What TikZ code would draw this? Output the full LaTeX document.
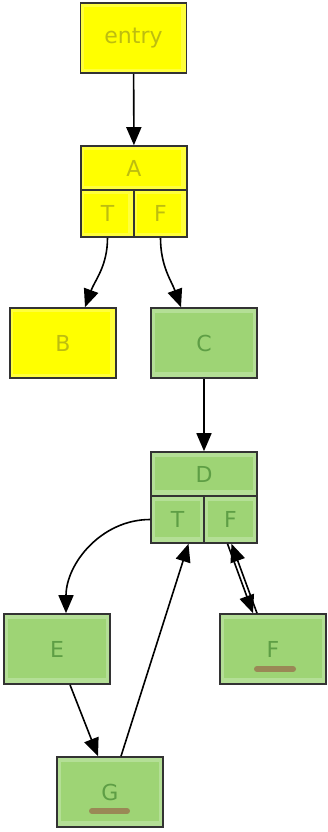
\documentclass[tikz,border=0pt]{standalone}
\usepackage{fontspec}
\setmainfont{DejaVu Sans}
\usetikzlibrary{arrows.meta,positioning}
\definecolor{hiyellow}{HTML}{FFFF3C}
\definecolor{hiyellowdeep}{HTML}{FFFF00}
\definecolor{leaflight}{HTML}{B4DF96}
\definecolor{leafdeep}{HTML}{96D068}
\definecolor{edgegray}{HTML}{333333}
\definecolor{mudbrown}{HTML}{9A8856}
\definecolor{yeltext}{HTML}{BDBD10}
\definecolor{grntext}{HTML}{5E9E45}

\begin{document}
\begin{tikzpicture}[x=1pt,y=1pt,font=\fontsize{22}{24}\selectfont,
  cell/.style={draw=edgegray,line width=1.6pt,inner sep=0pt,minimum width=106pt,minimum height=70pt},
  yel/.style={cell,fill=hiyellow,text=yeltext,
    path picture={\fill[hiyellowdeep] ([shift={(3pt,4pt)}]path picture bounding box.south west) rectangle ([shift={(-6pt,-4pt)}]path picture bounding box.north east);}},
  grn/.style={cell,fill=leaflight,text=grntext,
    path picture={\fill[leafdeep,opacity=.7] ([shift={(4pt,6pt)}]path picture bounding box.south west) rectangle ([shift={(-4pt,-5pt)}]path picture bounding box.north east);}},
  arr/.style={-{Triangle[length=18pt,width=15pt]},line width=1.6pt,black}]
\useasboundingbox (0,0) rectangle (327,-832);
% upper part
\node[yel] (entry) at (133.5,-38) {entry};
\node[yel,minimum height=44pt] (A) at (134,-168) {A};
\node[yel,minimum width=53pt,minimum height=47pt] (AT) at (107.5,-213.5) {T};
\node[yel,minimum width=53pt,minimum height=47pt] (AF) at (160.5,-213.5) {F};
\node[yel] (B) at (63,-343) {B};
\node[grn] (C) at (204,-343) {C};
% lower part
\node[grn,minimum height=44pt] (D) at (204,-474) {D};
\node[grn,minimum width=53pt,minimum height=47pt] (DT) at (177.5,-519.5) {T};
\node[grn,minimum width=53pt,minimum height=47pt] (DF) at (230.5,-519.5) {F};
\node[grn] (E) at (57,-649) {E};
\node[grn] (F) at (273,-649) {F};
\node[grn] (G) at (110,-792) {G};
\draw[mudbrown,line width=6pt,line cap=round] ([shift={(-16pt,-20pt)}]F.center) -- ([shift={(20pt,-20pt)}]F.center);
\draw[mudbrown,line width=6pt,line cap=round] ([shift={(-18pt,-19pt)}]G.center) -- ([shift={(17pt,-19pt)}]G.center);
% edges
\draw[arr] (entry) -- (A);
\draw[arr] (AT.south) to[out=-90,in=70] ([xshift=22pt]B.north);
\draw[arr] (AF.south) to[out=-90,in=110] ([xshift=-23pt]C.north);
\draw[arr] (C) -- (D);
\draw[arr] (DT.west) to[out=180,in=90] ([xshift=9pt]E.north);
\draw[arr] ([xshift=13pt]E.south) -- ([xshift=-12pt]G.north);
\draw[arr] ([xshift=11pt]G.north) -- ([xshift=11pt]DT.south);
\draw[arr] ([xshift=-3pt]DF.south) -- ([xshift=-20pt]F.north);
\draw[arr] ([xshift=-16pt]F.north) -- ([xshift=1pt]DF.south);
\end{tikzpicture}
\end{document}
